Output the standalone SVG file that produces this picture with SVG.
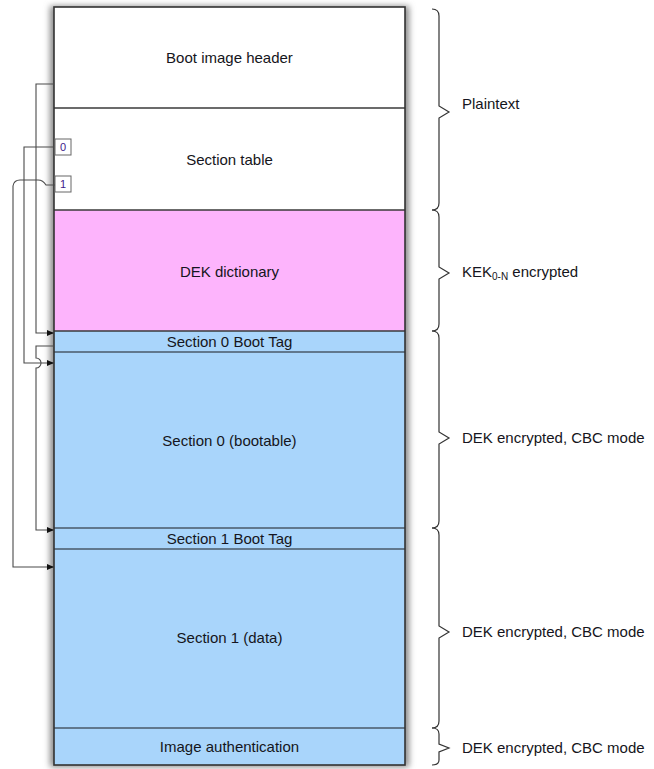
<svg xmlns="http://www.w3.org/2000/svg" width="654" height="769" viewBox="0 0 654 769">
<style>
text{font-family:"Liberation Sans",Arial,sans-serif;font-size:15px;fill:#151520}
.c{text-anchor:middle}
.div{stroke:#3a3a3a;stroke-width:1.5}
.tag{stroke:#4a5868;stroke-width:1.5}
.conn{fill:none;stroke:#4a4a4a;stroke-width:1.1}
.brace{fill:none;stroke:#333;stroke-width:1.2}
.lbl{fill:#fff;stroke:#666;stroke-width:1}
.num{font-size:11px;fill:#40208a}
</style>
<defs>
<filter id="sh" x="-10%" y="-5%" width="120%" height="110%">
<feGaussianBlur stdDeviation="3"/>
</filter>
<marker id="ar" markerWidth="8" markerHeight="6" refX="7" refY="3" orient="auto" markerUnits="userSpaceOnUse">
<path d="M0,0 L7,3 L0,6 Z" fill="#111"/>
</marker>
</defs>
<rect x="50" y="6" width="359" height="761" fill="#888" filter="url(#sh)"/>
<g id="header"><rect x="54" y="7" width="351" height="101" fill="#fff"/><text class="c" x="229.5" y="63">Boot image header</text></g>
<g id="sectiontable"><rect x="54" y="108" width="351" height="102" fill="#fff"/><text class="c" x="229.5" y="165">Section table</text></g>
<g id="dek"><rect x="54" y="210" width="351" height="121" fill="#fdb4fc"/><text class="c" x="229.5" y="277">DEK dictionary</text></g>
<g id="s0tag"><rect x="54" y="331" width="351" height="21" fill="#a9d5fb"/><text class="c" x="229.5" y="347">Section 0 Boot Tag</text></g>
<g id="s0"><rect x="54" y="352" width="351" height="176" fill="#a9d5fb"/><text class="c" x="229.5" y="446">Section 0 (bootable)</text></g>
<g id="s1tag"><rect x="54" y="528" width="351" height="21" fill="#a9d5fb"/><text class="c" x="229.5" y="544">Section 1 Boot Tag</text></g>
<g id="s1"><rect x="54" y="549" width="351" height="179" fill="#a9d5fb"/><text class="c" x="229.5" y="643">Section 1 (data)</text></g>
<g id="auth"><rect x="54" y="728" width="351" height="37" fill="#a9d5fb"/><text class="c" x="229.5" y="752">Image authentication</text></g>
<g id="dividers">
<line class="div" x1="54" y1="108" x2="405" y2="108"/>
<line class="div" x1="54" y1="210" x2="405" y2="210"/>
<line class="div" x1="54" y1="331" x2="405" y2="331"/>
<line class="tag" x1="54" y1="352" x2="405" y2="352"/>
<line class="tag" x1="54" y1="528" x2="405" y2="528"/>
<line class="tag" x1="54" y1="549" x2="405" y2="549"/>
<line class="tag" x1="54" y1="728" x2="405" y2="728"/>
<rect x="54" y="7" width="351" height="758" fill="none" stroke="#333" stroke-width="1.6"/>
</g>
<g id="label0"><rect class="lbl" x="55" y="139" width="16" height="16"/><text class="c num" x="63" y="151">0</text></g>
<g id="label1"><rect class="lbl" x="55" y="176" width="16" height="16"/><text class="c num" x="63" y="188">1</text></g>
<g id="connectors">
<path class="conn" d="M54,84 H36 V333 H54" marker-end="url(#ar)"/>
<path class="conn" d="M54,147 H24 V363 H54" marker-end="url(#ar)"/>
<path class="conn" d="M54,346 H36 V358 A5,5 0 0 1 36,368 V530 H54" marker-end="url(#ar)"/>
<path class="conn" d="M55,185 H46 Q43,180 38,180 H20 Q14,180 13,186 V567 H54" marker-end="url(#ar)"/>
</g>
<g id="braces">
<path class="brace" d="M432,9 Q439,9 439,16 V106 L449,112 L439,118 V203 Q439,210 432,210"/>
<path class="brace" d="M432,210 Q439,210 439,217 V267 L449,273 L439,279 V324 Q439,331 432,331"/>
<path class="brace" d="M432,331 Q439,331 439,338 V432 L449,438 L439,444 V521 Q439,528 432,528"/>
<path class="brace" d="M432,528 Q439,528 439,535 V626 L449,632 L439,638 V721 Q439,728 432,728"/>
<path class="brace" d="M432,728 Q439,728 439,734 V744 L449,748 L439,752 V760 Q439,765 432,765"/>
</g>
<g id="labels">
<text x="462" y="109">Plaintext</text>
<text x="462" y="277">KEK<tspan font-size="10" dy="3">0-N</tspan><tspan dy="-3"> encrypted</tspan></text>
<text x="462" y="443">DEK encrypted, CBC mode</text>
<text x="462" y="637">DEK encrypted, CBC mode</text>
<text x="462" y="753">DEK encrypted, CBC mode</text>
</g>
</svg>
